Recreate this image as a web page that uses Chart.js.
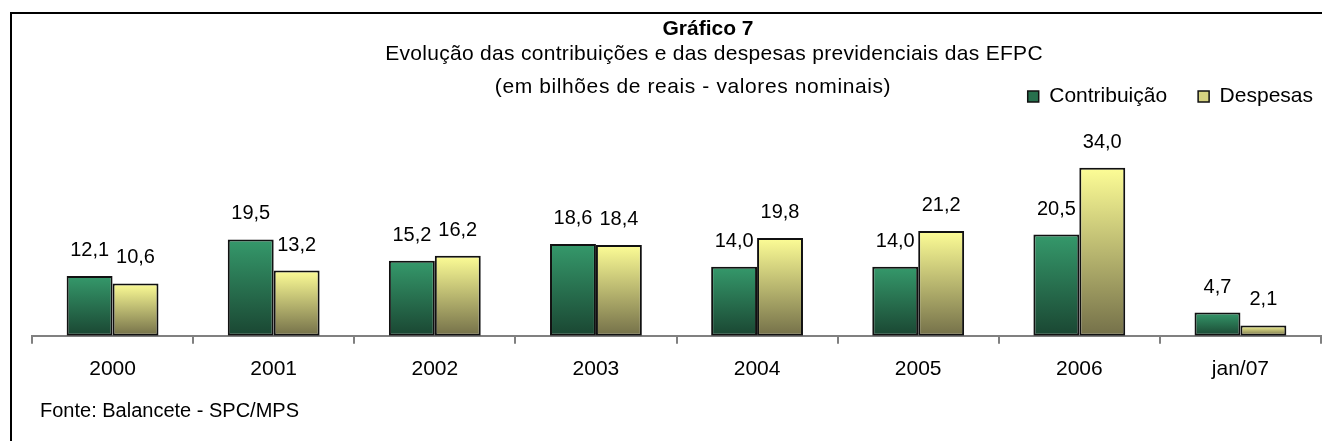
<!DOCTYPE html>
<html>
<head>
<meta charset="utf-8">
<script src="https://cdn.jsdelivr.net/npm/chart.js@4.4.1/dist/chart.umd.min.js"></script>
<style>
    html, body { margin: 0; padding: 0; background: #fff; }
    #wrap { width: 1322px; height: 441px; }
</style>
</head>
<body>
<div id="wrap"><canvas id="chart" width="1322" height="441"></canvas></div>
<script>
const categories = ["2000", "2001", "2002", "2003", "2004", "2005", "2006", "jan/07"];
const contribuicao = [12.1, 19.5, 15.2, 18.6, 14.0, 14.0, 20.5, 4.7];
const despesas = [10.6, 13.2, 16.2, 18.4, 19.8, 21.2, 34.0, 2.1];

const titleLines = [
    "Gráfico 7",
    "Evolução das contribuições e das despesas previdenciais das EFPC",
    "(em bilhões de reais - valores nominais)"
];
const sourceText = "Fonte: Balancete - SPC/MPS";

const FONT = "'Liberation Sans', Arial, sans-serif";

// vertical gradient per bar, from bar top down to the baseline
function barGradient(topColor, bottomColor) {
    return function (context) {
        const chart = context.chart;
        const yScale = chart.scales.y;
        if (!chart.chartArea || !yScale || context.type !== "data") {
            return topColor;
        }
        const top = yScale.getPixelForValue(context.raw);
        const bottom = yScale.getPixelForValue(0);
        if (!isFinite(top) || !isFinite(bottom) || top === bottom) {
            return topColor;
        }
        const g = chart.ctx.createLinearGradient(0, top, 0, bottom);
        g.addColorStop(0, topColor);
        g.addColorStop(1, bottomColor);
        return g;
    };
}

// push the legend a bit to the right, like the original
const legendShift = {
    id: "legendShift",
    afterLayout(chart) {
        if (chart.legend) {
            chart.legend.left += 23;
            chart.legend.right += 23;
        }
    }
};

// frame, titles, source note and value labels
const decorations = {
    id: "decorations",
    afterDraw(chart) {
        const ctx = chart.ctx;
        ctx.save();

        // frame (only top and left are inside the picture)
        ctx.strokeStyle = "#000";
        ctx.lineWidth = 2;
        ctx.beginPath();
        ctx.moveTo(11, 460);
        ctx.lineTo(11, 13);
        ctx.lineTo(1340, 13);
        ctx.stroke();

        ctx.fillStyle = "#000";
        ctx.textAlign = "center";
        ctx.textBaseline = "middle";
        ctx.font = "bold 21px " + FONT;
        ctx.fillText(titleLines[0], 708, 29);
        ctx.font = "21px " + FONT;
        ctx.letterSpacing = "0.3px";
        ctx.fillText(titleLines[1], 714, 54);
        ctx.letterSpacing = "0.6px";
        ctx.fillText(titleLines[2], 693, 87);
        ctx.letterSpacing = "0px";

        ctx.font = "20px " + FONT;
        ctx.textAlign = "left";
        ctx.fillText(sourceText, 40, 411);

        // values above bars
        ctx.textAlign = "center";
        ctx.textBaseline = "alphabetic";
        chart.data.datasets.forEach((ds, i) => {
            const meta = chart.getDatasetMeta(i);
            meta.data.forEach((bar, j) => {
                const txt = ds.data[j].toFixed(1).replace(".", ",");
                ctx.fillText(txt, bar.x, bar.y - 20);
            });
        });
        ctx.restore();
    }
};

new Chart(document.getElementById("chart"), {
    type: "bar",
    data: {
        labels: categories,
        datasets: [
            {
                label: "Contribuição",
                data: contribuicao,
                backgroundColor: barGradient("#35996b", "#1a4632"),
                borderColor: "#111",
                borderWidth: 2,
                borderSkipped: false,
                categoryPercentage: 0.57,
                barPercentage: 1
            },
            {
                label: "Despesas",
                data: despesas,
                backgroundColor: barGradient("#fdfd96", "#747049"),
                borderColor: "#111",
                borderWidth: 2,
                borderSkipped: false,
                categoryPercentage: 0.57,
                barPercentage: 1
            }
        ]
    },
    options: {
        responsive: false,
        animation: false,
        layout: {
            padding: { top: 55, left: 32, right: 1, bottom: 46 }
        },
        plugins: {
            title: { display: false },
            tooltip: { enabled: false },
            legend: {
                position: "top",
                align: "end",
                labels: {
                    boxWidth: 11,
                    boxHeight: 11,
                    padding: 31,
                    color: "#000",
                    font: { family: FONT, size: 21 },
                    generateLabels: function (chart) {
                        const fills = ["#27704d", "#d6d381"];
                        return chart.data.datasets.map((ds, i) => ({
                            text: ds.label,
                            fillStyle: fills[i],
                            strokeStyle: "#111",
                            lineWidth: 1.5,
                            datasetIndex: i,
                            hidden: false
                        }));
                    }
                }
            }
        },
        scales: {
            x: {
                grid: {
                    offset: true,
                    drawOnChartArea: false,
                    drawTicks: true,
                    tickLength: 8,
                    color: "#808080",
                    lineWidth: 2
                },
                border: { display: true, color: "#808080", width: 2 },
                ticks: {
                    color: "#000",
                    padding: 13,
                    font: { family: FONT, size: 21 }
                }
            },
            y: {
                display: false,
                beginAtZero: true,
                min: 0,
                max: 44.3
            }
        }
    },
    plugins: [legendShift, decorations]
});
</script>
</body>
</html>
